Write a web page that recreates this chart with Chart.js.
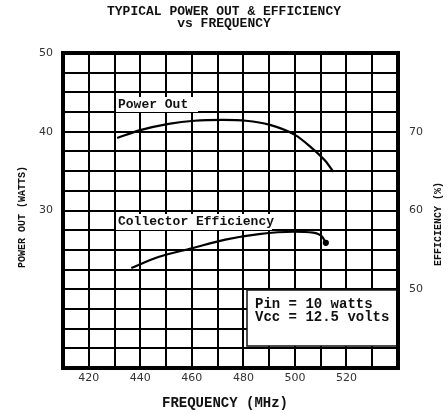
<!DOCTYPE html>
<html>
<head>
<meta charset="utf-8">
<script src="https://cdn.jsdelivr.net/npm/chart.js@4.4.1/dist/chart.umd.min.js"></script>
<style>
  html, body { margin: 0; padding: 0; background: #fff; }
</style>
</head>
<body>
<canvas id="grafico" width="448" height="414"></canvas>
<script>
// Datos
const titleLines = ["TYPICAL POWER OUT & EFFICIENCY", "vs FREQUENCY"];
const freqPower = [431, 440, 451, 461, 472, 481, 490, 500, 506, 511.5, 515];
const powerOut = [39.2, 40.2, 41.0, 41.4, 41.5, 41.4, 40.9, 39.6, 38.1, 36.4, 34.9];
const freqEff = [436.5, 447, 460, 473, 486, 499.5, 507, 510.5, 512];
const efficiency = [52.7, 54.1, 55.2, 56.3, 57.0, 57.3, 57.2, 56.7, 55.9];
const freqTicks = [420, 440, 460, 480, 500, 520];
const powerTicks = [30, 40, 50];
const effTicks = [50, 60, 70];
const curveLabels = ["Power Out", "Collector Efficiency"];
const noteLines = ["Pin = 10 watts", "Vcc = 12.5 volts"];

const tickFont = { family: "DejaVu Sans", size: 11 };

// Cajas blancas, textos y marco
const decor = {
    id: 'decor',
    beforeDatasetsDraw(chart) {
        const ctx = chart.ctx;
        const a = chart.chartArea;
        ctx.save();
        ctx.fillStyle = '#fff';
        ctx.fillRect(116, 97, 82, 15);
        ctx.fillRect(116, 214, 156, 16);
        ctx.fillRect(247, 290, a.right - 247, 56);
        ctx.strokeStyle = '#111';
        ctx.lineWidth = 1.5;
        ctx.strokeRect(247, 290, a.right - 247, 56);

        ctx.fillStyle = '#111';
        ctx.textBaseline = 'middle';
        ctx.textAlign = 'left';
        ctx.font = 'bold 13px "Liberation Mono"';
        ctx.fillText(curveLabels[0], 118, 105);
        ctx.fillText(curveLabels[1], 118, 222);
        ctx.font = 'bold 14px "Liberation Mono"';
        ctx.fillText(noteLines[0], 255, 304);
        ctx.fillText(noteLines[1], 255, 317);
        ctx.restore();
    },
    afterDraw(chart) {
        const ctx = chart.ctx;
        const a = chart.chartArea;
        ctx.save();
        ctx.strokeStyle = '#000';
        ctx.lineWidth = 4;
        ctx.strokeRect(a.left, a.top, a.right - a.left, a.bottom - a.top);

        ctx.fillStyle = '#111';
        ctx.textAlign = 'center';
        ctx.textBaseline = 'middle';
        ctx.font = 'bold 14px "Liberation Mono"';
        ctx.fillText("FREQUENCY (MHz)", 225, 403);

        ctx.font = 'bold 10px "Liberation Mono"';
        ctx.translate(22, 217);
        ctx.rotate(-Math.PI / 2);
        ctx.fillText("POWER OUT (WATTS)", 0, 0);
        ctx.restore();

        ctx.save();
        ctx.fillStyle = '#111';
        ctx.textAlign = 'center';
        ctx.textBaseline = 'middle';
        ctx.font = 'bold 10px "Liberation Mono"';
        ctx.translate(438, 224);
        ctx.rotate(-Math.PI / 2);
        ctx.fillText("EFFICIENCY (%)", 0, 0);
        ctx.restore();
    }
};

const ctx = document.getElementById('grafico').getContext('2d');
const grafico = new Chart(ctx, {
    type: 'line',
    data: {
        datasets: [{
            label: curveLabels[0],
            data: freqPower.map((f, i) => ({ x: f, y: powerOut[i] })),
            yAxisID: 'y',
            borderColor: '#000',
            borderWidth: 2.2,
            pointRadius: 0,
            tension: 0.4,
            cubicInterpolationMode: 'monotone'
        }, {
            label: curveLabels[1],
            data: freqEff.map((f, i) => ({ x: f, y: efficiency[i] })),
            yAxisID: 'y1',
            borderColor: '#000',
            backgroundColor: '#000',
            borderWidth: 2.2,
            pointRadius: freqEff.map((f, i) => i === freqEff.length - 1 ? 2 : 0),
            tension: 0.4,
            cubicInterpolationMode: 'monotone'
        }]
    },
    options: {
        responsive: false,
        animation: false,
        layout: { padding: 0 },
        plugins: {
            legend: { display: false },
            tooltip: { enabled: false },
            title: {
                display: true,
                text: titleLines,
                color: '#111',
                font: { family: "Liberation Mono", size: 13, weight: 'bold', lineHeight: '12px' },
                padding: { top: 6, bottom: 23 }
            }
        },
        scales: {
            x: {
                type: 'linear',
                min: 410,
                max: 540,
                afterFit: s => { s.height = 46; },
                ticks: {
                    stepSize: 10,
                    autoSkip: false,
                    maxRotation: 0,
                    padding: 4,
                    color: '#333',
                    font: tickFont,
                    callback: v => freqTicks.includes(v) ? v : ''
                },
                grid: { color: '#000', lineWidth: 2, drawTicks: false },
                border: { display: false }
            },
            y: {
                position: 'left',
                min: 10,
                max: 50,
                afterFit: s => { s.width = 63; },
                ticks: {
                    stepSize: 2.5,
                    autoSkip: false,
                    padding: 10,
                    color: '#333',
                    font: tickFont,
                    callback: v => powerTicks.includes(v) ? v : ''
                },
                grid: { color: '#000', lineWidth: 2, drawTicks: false },
                border: { display: false }
            },
            y1: {
                position: 'right',
                min: 40,
                max: 80,
                afterFit: s => { s.width = 50; },
                ticks: {
                    stepSize: 2.5,
                    autoSkip: false,
                    padding: 11,
                    color: '#333',
                    font: tickFont,
                    callback: v => effTicks.includes(v) ? v : ''
                },
                grid: { display: false, drawTicks: false },
                border: { display: false }
            }
        }
    },
    plugins: [decor]
});
</script>
</body>
</html>
